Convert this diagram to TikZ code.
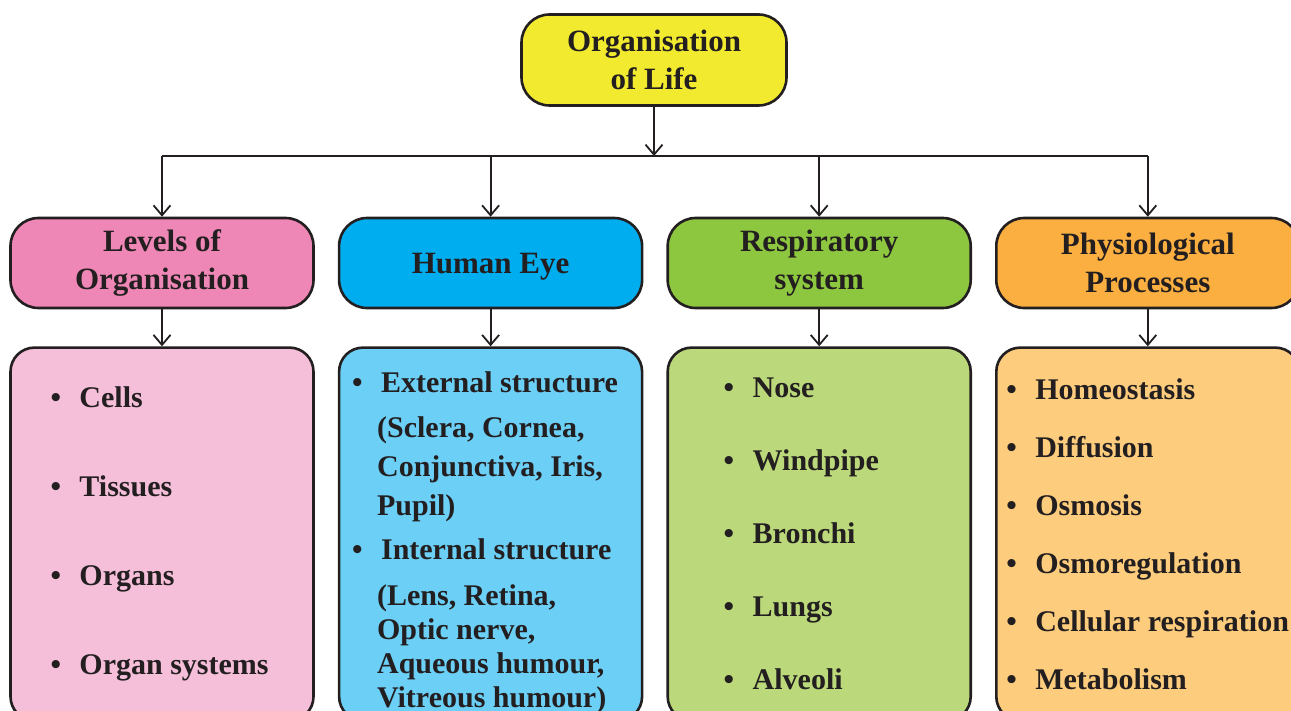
\documentclass[tikz,border=0pt]{standalone}
\usepackage{fontspec}
\setmainfont{Liberation Serif}
\usetikzlibrary{arrows.meta,positioning}
\definecolor{ink}{HTML}{231F20}
\definecolor{rootfill}{HTML}{F2EA2E}
\definecolor{levhead}{HTML}{EE87B5}
\definecolor{levbody}{HTML}{F6BFD9}
\definecolor{eyehead}{HTML}{00AEEF}
\definecolor{eyebody}{HTML}{6CCFF6}
\definecolor{resphead}{HTML}{8DC63F}
\definecolor{respbody}{HTML}{BBD97A}
\definecolor{phyhead}{HTML}{FBAF41}
\definecolor{phybody}{HTML}{FDCC7D}
\newcommand{\itm}[1]{\mbox{\spaceskip=0pt\xspaceskip=0pt\makebox[29pt][l]{\textbullet}#1}}
\newcommand{\ind}[1]{\mbox{\spaceskip=0pt\xspaceskip=0pt\hspace*{25pt}#1}}

\begin{document}
\begin{tikzpicture}[x=1pt,y=-1pt,>={Straight Barb[length=10pt,width=17pt]},
  line width=1.8pt,draw=ink,
  rootbox/.style={draw=ink,line width=2.6pt,rounded corners=28pt,minimum width=265pt,minimum height=91pt,align=center,text=ink,inner sep=0pt,font=\bfseries\fontsize{31}{38}\selectfont},
  head/.style={draw=ink,line width=2.6pt,rounded corners=28pt,minimum width=303pt,minimum height=90pt,align=center,text=ink,inner sep=0pt,font=\bfseries\fontsize{31}{38}\selectfont},
  list/.style={draw=ink,line width=2.6pt,rounded corners=24pt,minimum width=303pt,minimum height=373pt,align=left,text=ink,inner sep=0pt,text width=303pt-2*#1}]
\useasboundingbox (0,0) rectangle (1291,711);
\node (root) [rootbox,fill=rootfill] at (654,60) {Organisation\\of Life};
\node (lev) [head,fill=levhead] at (162,263) {Levels of\\Organisation};
\node (eye) [head,fill=eyehead,right=23pt of lev] {\rule{0pt}{27pt}Human Eye};
\node (resp) [head,fill=resphead,right=23pt of eye] {Respiratory\\system};
\node (phy) [head,fill=phyhead,right=23pt of resp] {Physiological\\Processes};
\node (lev-list) [list=40pt,fill=levbody,below=37pt of lev,font=\bfseries\fontsize{30}{89}\selectfont]
  {\itm{Cells}\\\itm{Tissues}\\\itm{Organs}\\\itm{Organ systems}};
\node (eye-list) [list=13pt,fill=eyebody,below=37pt of eye,font=\bfseries\fontsize{30}{34}\selectfont]
  {\rule{0pt}{39pt}\itm{External structure}\\[11pt]
   \ind{(Sclera, Cornea,}\\[5pt]
   \ind{Conjunctiva, Iris,}\\[5pt]
   \ind{Pupil)}\\[10pt]
   \itm{Internal structure}\\[12pt]
   \ind{(Lens, Retina,}\\
   \ind{Optic nerve,}\\
   \ind{Aqueous humour,}\\
   \ind{Vitreous humour)}};
\node (resp-list) [list=56pt,fill=respbody,below=37pt of resp,font=\bfseries\fontsize{30}{73}\selectfont]
  {\itm{Nose}\\\itm{Windpipe}\\\itm{Bronchi}\\\itm{Lungs}\\\itm{Alveoli}};
\node (phy-list) [list=10pt,fill=phybody,below=37pt of phy,font=\bfseries\fontsize{30}{58}\selectfont]
  {\itm{Homeostasis}\\\itm{Diffusion}\\\itm{Osmosis}\\\itm{Osmoregulation}\\\itm{Cellular respiration}\\\itm{Metabolism}};
% branch line under the root
\coordinate (bus) at (654,156);
\draw[->] (root) -- (root |- bus);
\draw (lev |- bus) -- (phy |- bus);
\foreach \n in {lev,eye,resp,phy} {
  \draw[->] (\n |- bus) -- (\n);
  \draw[->] (\n) -- (\n-list);
}
\end{tikzpicture}
\end{document}
